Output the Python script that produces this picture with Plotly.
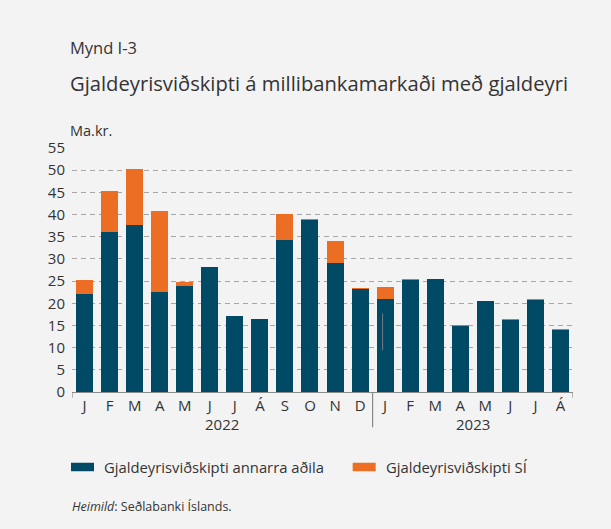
import plotly.graph_objects as go

months = ["J", "F", "M", "A", "M", "J", "J", "Á", "S", "O", "N", "D",
          "J", "F", "M", "A", "M", "J", "J", "Á"]
years = ["2022", "2023"]
other_parties = [22.2, 36.1, 37.7, 22.6, 23.8, 28.2, 17.2, 16.5, 34.3, 38.8, 29.1, 23.3,
                 21.0, 25.3, 25.5, 15.0, 20.6, 16.3, 20.8, 14.1]
central_bank = [3.1, 9.2, 12.6, 18.2, 0.9, 0.0, 0.0, 0.0, 5.9, 0.07, 5.0, 0.07,
                2.7, 0.07, 0.0, 0.07, 0.0, 0.07, 0.07, 0.07]
yticks = [0, 5, 10, 15, 20, 25, 30, 35, 40, 45, 50, 55]
series_names = ["Gjaldeyrisviðskipti annarra aðila", "Gjaldeyrisviðskipti SÍ"]

BLUE = "#004a66"
ORANGE = "#ec6d24"
BG = "#f3f3f3"
TXT = "#333333"
FONT = "Open Sans"

W, H = 611, 529
L, R = 72, 572.7
T, B = 147.5, 391.7
PW, PH = R - L, B - T

def px(x):
    return (x - L) / PW

def py(y):
    return (B - y) / PH

x = list(range(len(months)))

fig = go.Figure()
fig.add_trace(go.Bar(x=x, y=other_parties, name=series_names[0],
                     marker=dict(color=BLUE, line=dict(width=0))))
fig.add_trace(go.Bar(x=x, y=central_bank, name=series_names[1],
                     marker=dict(color=ORANGE, line=dict(width=0))))

fig.update_layout(
    width=W, height=H,
    barmode="stack", bargap=0.32,
    paper_bgcolor=BG, plot_bgcolor=BG,
    showlegend=False,
    margin=dict(l=L, r=W - R, t=T, b=H - B, pad=0),
    font=dict(family=FONT, color=TXT),
)
fig.update_xaxes(
    range=[-0.5, len(months) - 0.5],
    tickvals=x, ticktext=months, ticks="",
    tickfont=dict(size=15, color=TXT),
    showgrid=False, zeroline=False,
    showline=True, linecolor="#8a8a8a", linewidth=1.2,
)
fig.update_yaxes(
    range=[0, 55], tickvals=yticks, ticks="",
    tickfont=dict(size=15, color=TXT),
    showgrid=True, gridcolor="#a6a6a6", gridwidth=1, griddash="5px,4px",
    zeroline=False, showline=False, ticklabelstandoff=6,
)

shapes = []
# end ticks and year separator
for xv, y2 in [(-0.5, 397.5), (len(months) - 0.5, 397.5), (11.5, 427)]:
    shapes.append(dict(type="line", xref="x", yref="paper", x0=xv, x1=xv,
                       y0=0, y1=py(y2), line=dict(color="#8a8a8a", width=1.2)))
# small artifact line inside the Jan 2023 bar
shapes.append(dict(type="line", xref="x", yref="y", x0=11.9, x1=11.9, y0=9.4, y1=17.7,
                   line=dict(color="#7a7a7a", width=1)))
# legend swatches
shapes.append(dict(type="rect", xref="paper", yref="paper", x0=px(71), x1=px(94),
                   y0=py(471), y1=py(462.5), fillcolor=BLUE, line=dict(width=0)))
shapes.append(dict(type="rect", xref="paper", yref="paper", x0=px(352.5), x1=px(375.5),
                   y0=py(471), y1=py(462.5), fillcolor=ORANGE, line=dict(width=0)))

annotations = [
    dict(text="Mynd I-3", x=px(68.5), y=py(47), size=16.5),
    dict(text="Gjaldeyrisviðskipti á millibankamarkaði með gjaldeyri",
         x=px(68), y=py(82), size=20.2),
    dict(text="Ma.kr.", x=px(68), y=py(130), size=14.5),
    dict(text=series_names[0], x=px(102), y=py(467), size=14.8),
    dict(text=series_names[1], x=px(384), y=py(467), size=14.8),
    dict(text="<i>Heimild</i>: Seðlabanki Íslands.", x=px(70), y=py(506), size=12.5),
]
ann = []
for a in annotations:
    ann.append(dict(text=a["text"], xref="paper", yref="paper", x=a["x"], y=a["y"],
                    xanchor="left", yanchor="middle", showarrow=False,
                    font=dict(size=a["size"], color=TXT, family=FONT)))
for i, yr in enumerate(years):
    ann.append(dict(text=yr, xref="x", yref="paper", x=5.5 if i == 0 else 15.5,
                    y=py(424), xanchor="center", yanchor="middle", showarrow=False,
                    font=dict(size=15, color=TXT, family=FONT)))

fig.update_layout(shapes=shapes, annotations=ann)
fig.write_html("out.html",
               config={"displayModeBar": False},
               post_script="document.body.style.margin='0';document.body.style.background='%s';" % BG)
